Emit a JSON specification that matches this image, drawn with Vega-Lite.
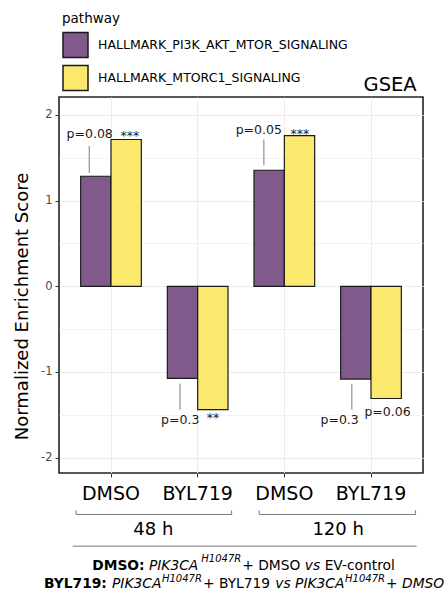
{
  "$schema": "https://vega.github.io/schema/vega-lite/v6.json",
  "width": 364,
  "height": 376,
  "autosize": {"type": "none"},
  "padding": {"left": 59, "top": 97, "right": 23, "bottom": 120},
  "background": "white",
  "config": {"font": "DejaVu Sans", "view": {"stroke": "#222222", "strokeWidth": 1.6}},
  "datasets": {
    "nes": [
      {"condition": "48 h|DMSO", "pathway": "HALLMARK_PI3K_AKT_MTOR_SIGNALING", "nes": 1.285},
      {"condition": "48 h|DMSO", "pathway": "HALLMARK_MTORC1_SIGNALING", "nes": 1.714},
      {"condition": "48 h|BYL719", "pathway": "HALLMARK_PI3K_AKT_MTOR_SIGNALING", "nes": -1.075},
      {"condition": "48 h|BYL719", "pathway": "HALLMARK_MTORC1_SIGNALING", "nes": -1.44},
      {"condition": "120 h|DMSO", "pathway": "HALLMARK_PI3K_AKT_MTOR_SIGNALING", "nes": 1.355},
      {"condition": "120 h|DMSO", "pathway": "HALLMARK_MTORC1_SIGNALING", "nes": 1.76},
      {"condition": "120 h|BYL719", "pathway": "HALLMARK_PI3K_AKT_MTOR_SIGNALING", "nes": -1.083},
      {"condition": "120 h|BYL719", "pathway": "HALLMARK_MTORC1_SIGNALING", "nes": -1.31}
    ],
    "ann": [
      {"kind": "ttl", "x": 4.527, "y": 2.282, "label": "GSEA"},
      {"kind": "pv", "x": 0.754, "y": 1.737, "label": "p=0.08"},
      {"kind": "pv", "x": 2.705, "y": 1.776, "label": "p=0.05"},
      {"kind": "pv", "x": 1.799, "y": -1.612, "label": "p=0.3"},
      {"kind": "pv", "x": 3.638, "y": -1.612, "label": "p=0.3"},
      {"kind": "pv", "x": 4.191, "y": -1.519, "label": "p=0.06"},
      {"kind": "star", "x": 1.219, "y": 1.71, "label": "***"},
      {"kind": "star", "x": 3.18, "y": 1.73, "label": "***"},
      {"kind": "star", "x": 2.176, "y": -1.589, "label": "**"},
      {"kind": "grp", "x": 1.488, "y": -2.909, "label": "48 h"},
      {"kind": "grp", "x": 3.621, "y": -2.909, "label": "120 h"},
      {"kind": "capb", "x": 0.783, "y": -3.318, "label": "DMSO:"},
      {"kind": "capi", "x": 1.438, "y": -3.318, "label": "PIK3CA"},
      {"kind": "sup", "x": 2.042, "y": -3.221, "label": "H1047R"},
      {"kind": "capn", "x": 2.515, "y": -3.318, "label": "+ DMSO"},
      {"kind": "capi", "x": 3.236, "y": -3.318, "label": "vs"},
      {"kind": "capn", "x": 3.465, "y": -3.318, "label": "EV-control"},
      {"kind": "capb", "x": 0.227, "y": -3.528, "label": "BYL719:"},
      {"kind": "capi", "x": 1.012, "y": -3.528, "label": "PIK3CA"},
      {"kind": "sup", "x": 1.588, "y": -3.454, "label": "H1047R"},
      {"kind": "capn", "x": 2.062, "y": -3.528, "label": "+ BYL719"},
      {"kind": "capi", "x": 2.896, "y": -3.528, "label": "vs"},
      {"kind": "capi", "x": 3.124, "y": -3.528, "label": "PIK3CA"},
      {"kind": "sup", "x": 3.701, "y": -3.454, "label": "H1047R"},
      {"kind": "capi", "x": 4.174, "y": -3.528, "label": "+ DMSO"}
    ],
    "lines": [
      {"x": 0.749, "x2": 0.749, "y": 1.636, "y2": 1.324},
      {"x": 2.764, "x2": 2.764, "y": 1.714, "y2": 1.413},
      {"x": 1.796, "x2": 1.796, "y": -1.137, "y2": -1.44},
      {"x": 3.779, "x2": 3.779, "y": -1.137, "y2": -1.44},
      {"x": 0.596, "x2": 2.392, "y": -2.664, "y2": -2.664},
      {"x": 0.596, "x2": 0.596, "y": -2.617, "y2": -2.664},
      {"x": 2.392, "x2": 2.392, "y": -2.617, "y2": -2.664},
      {"x": 2.71, "x2": 4.514, "y": -2.664, "y2": -2.664},
      {"x": 2.71, "x2": 2.71, "y": -2.617, "y2": -2.664},
      {"x": 4.514, "x2": 4.514, "y": -2.617, "y2": -2.664},
      {"x": 0.558, "x2": 4.526, "y": -3.034, "y2": -3.034}
    ]
  },
  "layer": [
    {
      "data": {"name": "nes"},
      "mark": {"type": "bar", "stroke": "#1a1a1a", "strokeWidth": 1.2},
      "encoding": {
        "x": {
          "field": "condition", "type": "nominal",
          "sort": ["48 h|DMSO", "48 h|BYL719", "120 h|DMSO", "120 h|BYL719"],
          "scale": {"paddingInner": 0.3, "paddingOuter": 0.25},
          "axis": {
            "title": null, "labelExpr": "split(datum.label, '|')[1]", "labelAngle": 0,
            "labelFontSize": 19, "labelColor": "black", "labelPadding": 7,
            "tickSize": 4, "tickColor": "#333333", "tickWidth": 1, "domain": false,
            "grid": true, "gridColor": "#ebebeb", "gridWidth": 1, "bandPosition": 0.5
          }
        },
        "xOffset": {
          "field": "pathway", "type": "nominal",
          "sort": ["HALLMARK_PI3K_AKT_MTOR_SIGNALING", "HALLMARK_MTORC1_SIGNALING"],
          "scale": {"paddingInner": 0, "paddingOuter": 0}
        },
        "y": {
          "field": "nes", "type": "quantitative",
          "scale": {"domain": [-2.18, 2.21], "nice": false, "zero": false},
          "axis": {
            "title": "Normalized Enrichment Score",
            "values": [-2, -1.5, -1, -0.5, 0, 0.5, 1, 1.5, 2],
            "labelExpr": "datum.value % 1 === 0 ? toString(datum.value) : ''",
            "labelFontSize": 11.5, "labelColor": "#4d4d4d", "labelPadding": 3,
            "tickSize": 4,
            "tickColor": {"condition": {"test": "datum.value % 1 !== 0", "value": "transparent"}, "value": "#333333"},
            "domain": false, "grid": true, "gridColor": "#ebebeb",
            "gridWidth": {"condition": {"test": "datum.value % 1 !== 0", "value": 0.6}, "value": 1.1},
            "titleFontSize": 18, "titleFontWeight": "normal", "titleColor": "black", "titlePadding": 9,
            "titleY": 209
          }
        },
        "color": {
          "field": "pathway", "type": "nominal",
          "sort": ["HALLMARK_PI3K_AKT_MTOR_SIGNALING", "HALLMARK_MTORC1_SIGNALING"],
          "scale": {"range": ["#7f5a8b", "#fbe96e"]},
          "legend": {
            "title": "pathway", "orient": "none", "legendX": 3, "legendY": -85, "direction": "vertical",
            "symbolType": "square", "symbolSize": 625, "symbolStrokeColor": "#1a1a1a", "symbolStrokeWidth": 1.5,
            "symbolOpacity": 1, "labelFontSize": 12.5, "labelColor": "black", "labelOffset": 9, "labelLimit": 400,
            "titleFontSize": 13.5, "titleFontWeight": "normal", "titleColor": "black", "titlePadding": 6,
            "rowPadding": 2, "padding": 0
          }
        }
      }
    },
    {
      "data": {"name": "lines"},
      "mark": {"type": "rule", "color": "#7a7a7a", "strokeWidth": 1},
      "encoding": {
        "x": {"field": "x", "type": "quantitative", "scale": {"domain": [0.4, 4.6], "nice": false, "zero": false}, "axis": null},
        "x2": {"field": "x2"},
        "y": {"field": "y", "type": "quantitative", "scale": {"domain": [-2.18, 2.21], "nice": false, "zero": false}},
        "y2": {"field": "y2"}
      }
    },
    {
      "data": {"name": "ann"},
      "transform": [{"filter": "datum.kind === 'ttl'"}],
      "mark": {"type": "text", "fontSize": 19.5, "align": "right", "baseline": "alphabetic", "color": "black"},
      "encoding": {
        "x": {"field": "x", "type": "quantitative", "scale": {"domain": [0.4, 4.6], "nice": false, "zero": false}, "axis": null},
        "y": {"field": "y", "type": "quantitative", "scale": {"domain": [-2.18, 2.21], "nice": false, "zero": false}},
        "text": {"field": "label"}
      }
    },
    {
      "data": {"name": "ann"},
      "transform": [{"filter": "datum.kind === 'pv' || datum.kind === 'star'"}],
      "mark": {"type": "text", "fontSize": 12.5, "align": "center", "baseline": "alphabetic", "color": "#1a1a1a"},
      "encoding": {
        "x": {"field": "x", "type": "quantitative", "scale": {"domain": [0.4, 4.6], "nice": false, "zero": false}, "axis": null},
        "y": {"field": "y", "type": "quantitative", "scale": {"domain": [-2.18, 2.21], "nice": false, "zero": false}},
        "text": {"field": "label"}
      }
    },
    {
      "data": {"name": "ann"},
      "transform": [{"filter": "datum.kind === 'grp'"}],
      "mark": {"type": "text", "fontSize": 18, "align": "center", "baseline": "alphabetic", "color": "black"},
      "encoding": {
        "x": {"field": "x", "type": "quantitative", "scale": {"domain": [0.4, 4.6], "nice": false, "zero": false}, "axis": null},
        "y": {"field": "y", "type": "quantitative", "scale": {"domain": [-2.18, 2.21], "nice": false, "zero": false}},
        "text": {"field": "label"}
      }
    },
    {
      "data": {"name": "ann"},
      "transform": [{"filter": "datum.kind === 'capb'"}],
      "mark": {"type": "text", "fontSize": 13.8, "fontWeight": "bold", "align": "left", "baseline": "alphabetic", "color": "black"},
      "encoding": {
        "x": {"field": "x", "type": "quantitative", "scale": {"domain": [0.4, 4.6], "nice": false, "zero": false}, "axis": null},
        "y": {"field": "y", "type": "quantitative", "scale": {"domain": [-2.18, 2.21], "nice": false, "zero": false}},
        "text": {"field": "label"}
      }
    },
    {
      "data": {"name": "ann"},
      "transform": [{"filter": "datum.kind === 'capi'"}],
      "mark": {"type": "text", "fontSize": 13.8, "fontStyle": "italic", "align": "left", "baseline": "alphabetic", "color": "black"},
      "encoding": {
        "x": {"field": "x", "type": "quantitative", "scale": {"domain": [0.4, 4.6], "nice": false, "zero": false}, "axis": null},
        "y": {"field": "y", "type": "quantitative", "scale": {"domain": [-2.18, 2.21], "nice": false, "zero": false}},
        "text": {"field": "label"}
      }
    },
    {
      "data": {"name": "ann"},
      "transform": [{"filter": "datum.kind === 'capn'"}],
      "mark": {"type": "text", "fontSize": 13.8, "align": "left", "baseline": "alphabetic", "color": "black"},
      "encoding": {
        "x": {"field": "x", "type": "quantitative", "scale": {"domain": [0.4, 4.6], "nice": false, "zero": false}, "axis": null},
        "y": {"field": "y", "type": "quantitative", "scale": {"domain": [-2.18, 2.21], "nice": false, "zero": false}},
        "text": {"field": "label"}
      }
    },
    {
      "data": {"name": "ann"},
      "transform": [{"filter": "datum.kind === 'sup'"}],
      "mark": {"type": "text", "fontSize": 10, "fontStyle": "italic", "align": "left", "baseline": "alphabetic", "color": "black"},
      "encoding": {
        "x": {"field": "x", "type": "quantitative", "scale": {"domain": [0.4, 4.6], "nice": false, "zero": false}, "axis": null},
        "y": {"field": "y", "type": "quantitative", "scale": {"domain": [-2.18, 2.21], "nice": false, "zero": false}},
        "text": {"field": "label"}
      }
    }
  ],
  "resolve": {"scale": {"x": "independent"}, "axis": {"x": "independent"}}
}
